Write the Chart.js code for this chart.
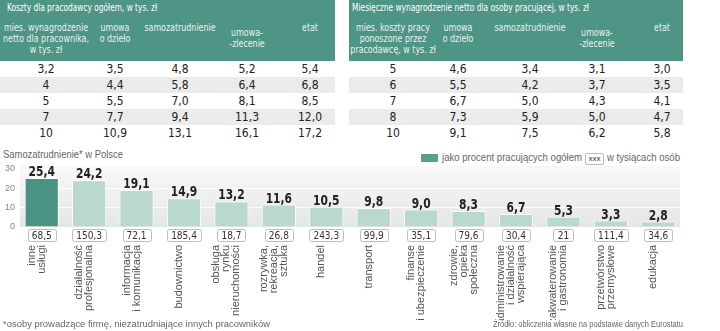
<!DOCTYPE html>
<html lang="pl">
<head>
<meta charset="utf-8">
<script src="https://cdn.jsdelivr.net/npm/chart.js@4.4.1/dist/chart.umd.min.js"></script>
<style>
  body { margin: 0; width: 720px; height: 331px; position: relative; overflow: hidden; background: #fff; font-family: "Liberation Sans", Arial, sans-serif; }
  .tab { position: absolute; top: 0; height: 141px; }
  .tab .head { position: absolute; left: 0; top: 0; right: 0; height: 61px; background: #4e9585; }
  .tab .title { position: absolute; left: 7px; top: 1px; font: 10.5px "Liberation Sans Narrow", "DejaVu Sans Condensed", sans-serif; color: #fff; white-space: nowrap; transform-origin: left top; }
  .tab .stripe { position: absolute; left: 0; right: 0; height: 16px; background: #ebebeb; }
  .tab .cell { position: absolute; transform: translateX(-50%); text-align: center; white-space: nowrap; font-family: "Liberation Sans Narrow", "DejaVu Sans Condensed", sans-serif; }
  .tab .hd { color: #e8f2ef; font-size: 10px; line-height: 11px; transform: translateX(-50%) scaleX(0.88); }
  .tab .num { color: #222; font-size: 12px; line-height: 16px; }
  .txt { position: absolute; white-space: nowrap; color: #666; transform-origin: left top; }
  #wykres { position: absolute; left: 0; top: 160px; }
</style>
</head>
<body>

<div class="tab" id="tab1" style="left:0;width:335px"></div>
<div class="tab" id="tab2" style="left:349px;width:334px"></div>

<div class="txt" data-fit="120" style="left:3px;top:148px;font-size:11px;">Samozatrudnienie* w Polsce</div>
<div style="position:absolute;left:421px;top:154px;width:17px;height:8px;background:#5a9e90;border-radius:1px;"></div>
<div class="txt" data-fit="140" style="left:442px;top:151px;font-size:10.5px;">jako procent pracujących ogółem</div>
<div style="position:absolute;left:585px;top:153px;width:17px;height:10px;border:1px solid #bbb;border-radius:2px;font:8px 'Liberation Sans Narrow',sans-serif;color:#333;text-align:center;line-height:10px;">xxx</div>
<div class="txt" data-fit="73" style="left:607px;top:151px;font-size:10.5px;">w tysiącach osób</div>

<canvas id="wykres" width="720" height="160"></canvas>

<div class="txt" data-fit="267" style="left:3px;top:319px;font-size:9px;">*osoby prowadzące firmę, niezatrudniające innych pracowników</div>
<div class="txt" data-fit="190" style="left:493px;top:319px;font-size:9px;">Źródło: obliczenia własne na podstawie danych Eurostatu</div>

<script>
// koszty pracodawcy (tys. zł) dla danego wynagrodzenia netto
var kosztyNetto = [3.2, 4, 5, 7, 10];
var kosztyDzielo = [3.5, 4.4, 5.5, 7.7, 10.9];
var kosztySamo = [4.8, 5.8, 7.0, 9.4, 13.1];
var kosztyZlecenie = [5.2, 6.4, 8.1, 11.3, 16.1];
var kosztyEtat = [5.4, 6.8, 8.5, 12.0, 17.2];

// wynagrodzenie netto (tys. zł) dla danych kosztow pracy
var nettoKoszty = [5, 6, 7, 8, 10];
var nettoDzielo = [4.6, 5.5, 6.7, 7.3, 9.1];
var nettoSamo = [3.4, 4.2, 5.0, 5.9, 7.5];
var nettoZlecenie = [3.1, 3.7, 4.3, 5.0, 6.2];
var nettoEtat = [3.0, 3.5, 4.1, 4.7, 5.8];

var naglowki1 = [["mies. wynagrodzenie", "netto dla pracownika,", "w tys. zł"], ["umowa", "o dzieło"], ["samozatrudnienie"], ["umowa-", "-zlecenie"], ["etat"]];
var naglowki2 = [["mies. koszty pracy", "ponoszone przez", "pracodawcę, w tys. zł"], ["umowa", "o dzieło"], ["samozatrudnienie"], ["umowa-", "-zlecenie"], ["etat"]];

// samozatrudnienie wg branz
var branze = [
  ["inne", "usługi"],
  ["działalność", "profesjonalna"],
  ["informacja", "i komunikacja"],
  ["budownictwo"],
  ["obsługa", "rynku", "nieruchomości"],
  ["rozrywka,", "rekreacja,", "sztuka"],
  ["handel"],
  ["transport"],
  ["finanse", "i ubezpieczenie"],
  ["zdrowie,", "opieka", "społeczna"],
  ["administrowanie", "i działalność", "wspierająca"],
  ["zakwaterowanie", "i gastronomia"],
  ["przetwórstwo", "przemysłowe"],
  ["edukacja"]
];
var procent = [25.4, 24.2, 19.1, 14.9, 13.2, 11.6, 10.5, 9.8, 9.0, 8.3, 6.7, 5.3, 3.3, 2.8];
var tysiace = [68.5, 150.3, 72.1, 185.4, 18.7, 26.8, 243.3, 99.9, 35.1, 79.6, 30.4, 21, 111.4, 34.6];
var osY = [0, 10, 20, 30];

function pl(v, dec) {
  var s = dec == null ? String(v) : v.toFixed(dec);
  return s.replace(".", ",");
}

// sciska tekst w poziomie do podanej szerokosci
function dopasuj(el, w) {
  var r = el.getBoundingClientRect().width;
  if (r > 0) el.style.transform = "scaleX(" + (w / r) + ")";
}

function tabela(id, tytul, tytulW, naglowki, kolumny, srodki, hdTop) {
  var el = document.getElementById(id);
  var html = '<div class="head"></div><div class="title" style="left:' + (id == "tab1" ? 7 : 3) + 'px">' + tytul + '</div>';
  html += '<div class="stripe" style="top:77px"></div><div class="stripe" style="top:109px"></div>';
  for (var c = 0; c < naglowki.length; c++) {
    html += '<div class="cell hd" style="left:' + srodki[c] + 'px;top:' + hdTop[c] + 'px">' + naglowki[c].join("<br>") + '</div>';
  }
  for (var c = 0; c < kolumny.length; c++) {
    for (var r = 0; r < kolumny[c].length; r++) {
      var txt = c == 0 ? pl(kolumny[c][r]) : pl(kolumny[c][r], 1);
      html += '<div class="cell num" style="left:' + srodki[c] + 'px;top:' + (61 + r * 16) + 'px">' + txt + '</div>';
    }
  }
  el.innerHTML = html;
  dopasuj(el.querySelector(".title"), tytulW);
}

tabela("tab1", "Koszty dla pracodawcy ogółem, w tys. zł", 150, naglowki1,
  [kosztyNetto, kosztyDzielo, kosztySamo, kosztyZlecenie, kosztyEtat],
  [46, 115, 180, 247, 310], [22, 22, 22, 27, 22]);
tabela("tab2", "Miesięczne wynagrodzenie netto dla osoby pracującej, w tys. zł", 237, naglowki2,
  [nettoKoszty, nettoDzielo, nettoSamo, nettoZlecenie, nettoEtat],
  [44, 109, 181, 248, 313], [22, 22, 22, 27, 22]);

document.querySelectorAll("[data-fit]").forEach(function (el) {
  dopasuj(el, +el.getAttribute("data-fit"));
});

// tlo pola wykresu
var tloPlugin = {
  id: "tlo",
  beforeDraw: function (chart) {
    var a = chart.chartArea, ctx = chart.ctx;
    var g = ctx.createLinearGradient(0, a.top - 3, 0, a.bottom);
    g.addColorStop(0, "#f8f8f8");
    g.addColorStop(1, "#e6e6e6");
    ctx.save();
    ctx.fillStyle = g;
    ctx.fillRect(a.left + 2, a.top - 3, a.right - a.left - 4, a.bottom - a.top + 3);
    ctx.restore();
  }
};

// etykiety wartosci, ramki z liczba osob i nazwy branz
var opisyPlugin = {
  id: "opisy",
  afterDatasetsDraw: function (chart) {
    var ctx = chart.ctx;
    var meta = chart.getDatasetMeta(0);
    var x = chart.scales.x;
    ctx.save();
    meta.data.forEach(function (bar, i) {
      var cx = x.getPixelForValue(i);
      ctx.fillStyle = "#222";
      ctx.font = "bold 14px 'Liberation Sans Narrow', 'DejaVu Sans Condensed', sans-serif";
      ctx.textAlign = "center";
      ctx.textBaseline = "alphabetic";
      ctx.save();
      ctx.translate(cx, bar.y - 2);
      ctx.scale(0.85, 1);
      ctx.fillText(pl(procent[i], 1), 0, 0);
      ctx.restore();

      ctx.font = "10px 'Liberation Sans Narrow', 'DejaVu Sans Condensed', sans-serif";
      var t = pl(tysiace[i]);
      var w = Math.max(ctx.measureText(t).width + 8, 20);
      ctx.fillStyle = "#fff";
      ctx.strokeStyle = "#bdbdbd";
      ctx.lineWidth = 1;
      ctx.beginPath();
      ctx.roundRect(Math.round(cx - w / 2) + 0.5, 69.5, Math.round(w), 12, 2);
      ctx.fill();
      ctx.stroke();
      ctx.fillStyle = "#333";
      ctx.textBaseline = "middle";
      ctx.fillText(t, cx, 76);

      var linie = branze[i], lh = 10;
      ctx.font = "11px 'Liberation Sans', sans-serif";
      ctx.fillStyle = "#555";
      ctx.textAlign = "right";
      for (var k = 0; k < linie.length; k++) {
        var lx = cx - 5 + (k - (linie.length - 1) / 2) * lh;
        ctx.save();
        ctx.translate(lx, 85);
        ctx.rotate(-Math.PI / 2);
        ctx.fillText(linie[k], 0, 0);
        ctx.restore();
      }
    });
    ctx.restore();
  }
};

var kolory = procent.map(function (v, i) { return i == 0 ? "#4a9383" : "#b9d8ce"; });

var ctx = document.getElementById("wykres").getContext("2d");
var myChart = new Chart(ctx, {
  type: "bar",
  plugins: [tloPlugin, opisyPlugin],
  data: {
    labels: branze,
    datasets: [{
      label: "jako procent pracujących ogółem",
      data: procent,
      backgroundColor: kolory,
      borderColor: "rgba(255,255,255,0.85)",
      borderWidth: 1,
      barPercentage: 0.72,
      categoryPercentage: 1
    }]
  },
  options: {
    responsive: false,
    devicePixelRatio: 1,
    animation: false,
    layout: { padding: { top: 9, right: 38, bottom: 0, left: 0 } },
    plugins: { legend: { display: false }, tooltip: { enabled: false } },
    scales: {
      x: {
        grid: { display: false },
        border: { display: false },
        ticks: { display: false },
        afterFit: function (s) { s.height = 93; }
      },
      y: {
        min: osY[0],
        max: osY[osY.length - 1],
        afterBuildTicks: function (s) { s.ticks = osY.map(function (v) { return { value: v }; }); },
        ticks: { padding: 3, color: "#888", font: { size: 9, family: "Liberation Sans" } },
        grid: { color: "rgba(255,255,255,0.9)", drawTicks: false },
        border: { display: false },
        afterFit: function (s) { s.width = 18; }
      }
    }
  }
});
</script>
</body>
</html>
